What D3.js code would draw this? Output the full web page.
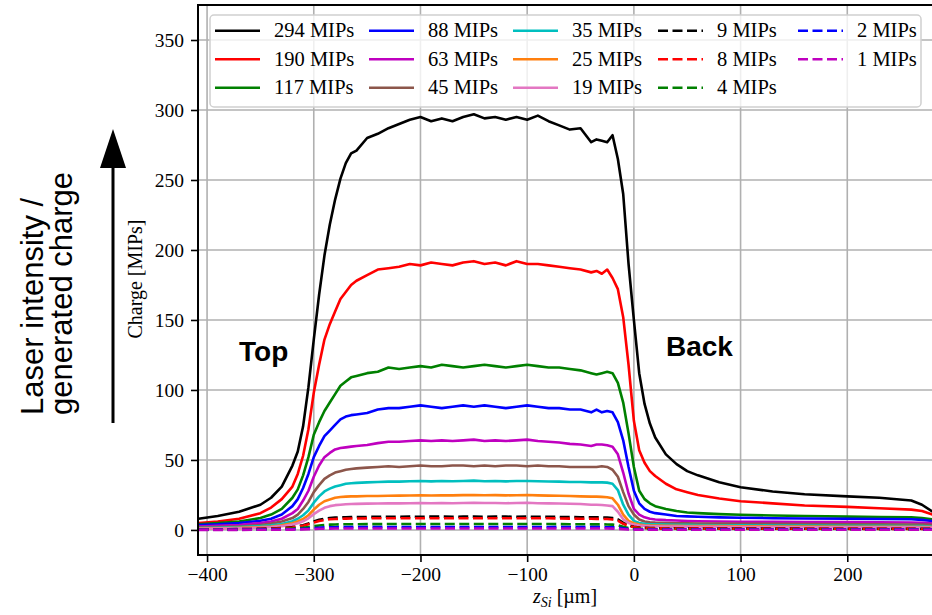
<!DOCTYPE html>
<meta charset="utf-8">
<title>charge vs z_Si</title>
<style>
body {
  margin: 0px;
  background: #fff;
}
svg {
  display: block;
}
.tick text {
  font-family: "Liberation Serif", serif;
  font-size: 19.5px;
  fill: #000;
}
</style>
<body>
<script src="https://d3js.org/d3.v7.min.js"></script>
<script>
var width = 932, height = 615;

// z positions [um] shared by every series
var zPos = [-408, -390, -370, -350, -340, -330, -320, -315, -310, -305,
            -300, -295, -290, -285, -280, -275, -270, -265, -260, -250,
            -240, -230, -220, -210, -200, -190, -180, -170, -160, -150,
            -140, -130, -120, -110, -100, -90, -80, -70, -60, -50,
            -40, -35, -30, -25, -20, -15, -10, -5, 0, 5,
            10, 15, 20, 30, 40, 50, 60, 80, 100, 130,
            160, 200, 230, 260, 270, 280, 290];

// charge [MIPs]
var q294 = [8, 10, 13, 18, 23, 31, 46, 56, 74, 102,
            136, 168, 196, 218, 236, 251, 262, 269, 271, 280,
            283, 287, 290, 293, 295, 292, 294, 292, 295, 297,
            294, 295, 293, 295, 293, 296, 292, 289, 286, 287,
            277, 279, 278, 277, 282, 265, 240, 190, 150, 112,
            90, 76, 66, 54, 47, 42, 39, 34, 30.5, 27.5,
            25.5, 24, 23, 21, 18, 13, 8];
var q190 = [5, 6, 8, 12, 16, 22, 31, 40, 53, 72,
            98, 118, 136, 147, 156, 165, 170, 175, 178, 182,
            186, 187, 188, 190, 189, 191, 190, 189, 191, 192,
            190, 191, 189, 192, 190, 190, 189, 188, 187, 186,
            184, 185, 183, 186, 180, 172, 152, 118, 78, 57,
            48, 42, 38.5, 33, 29, 27, 25, 22.5, 20.5, 19,
            17.5, 16.5, 15.5, 14.5, 13.5, 11, 9];
var q117 = [4, 5, 6, 8.5, 11, 15, 23, 29, 39, 52,
            68, 77, 85, 91, 97, 103, 106, 109, 110, 112,
            113, 116, 115, 116, 117, 116, 118, 117, 116, 117,
            118, 117, 116, 117, 118, 117, 116, 116, 115, 114,
            112, 111, 112, 113, 112, 105, 91, 69, 45, 28,
            22, 19, 17, 15, 13.5, 12.5, 12, 11.3, 10.8, 10.3,
            10, 9.5, 9.2, 9, 8.5, 7.5, 6];
var q88 = [3.5, 4, 5, 6.5, 8, 11, 17, 22, 30, 40,
           52, 60, 67, 71, 75, 79, 81, 82, 82.5, 83.5,
           86, 87, 87, 88, 89, 88, 87, 88, 89, 88,
           89, 88, 87, 88, 89, 88, 87, 87, 86, 86,
           84, 86, 84, 85, 84, 77, 64, 45, 28, 19,
           15, 13, 12, 11, 10, 9.7, 9.4, 9, 8.7, 8.4,
           8.2, 8, 7.8, 7.6, 7.2, 6.3, 5];
var q63 = [2.4, 3, 3.5, 5, 6, 8, 12, 15, 21, 28,
           38, 46, 52, 55, 57.5, 58.5, 59, 59.5, 60, 60.7,
           62, 63, 63, 63.5, 64, 63.5, 64, 63.5, 64, 64.5,
           63.5, 64, 63.5, 64, 64.5, 63.5, 63, 62.5, 61.5, 61,
           60, 61, 61, 60.5, 59.5, 54, 41, 26, 15, 11,
           9, 8, 7.5, 7, 6.7, 6.4, 6.2, 6, 5.9, 5.8,
           5.7, 5.6, 5.5, 5.3, 5.1, 4.8, 4.4];
var q45 = [1.8, 2, 2.5, 3.5, 4.5, 6, 8.5, 11, 15, 20,
           27, 32, 36.5, 39, 41, 42, 43, 43.5, 44, 44.5,
           45, 45.5, 45, 45.5, 46, 45.5, 45.5, 46, 46, 45.5,
           46, 45.5, 46, 46, 45.5, 46, 45.5, 45.5, 45, 45,
           45, 45, 45.5, 45, 43, 38, 27, 17, 11, 7.5,
           6, 5.5, 5.2, 5, 4.8, 4.7, 4.6, 4.5, 4.4, 4.3,
           4.2, 4.1, 4, 3.9, 3.8, 3.6, 3.3];
var q35 = [1.4, 1.6, 2, 2.7, 3.3, 4.3, 6.2, 8, 10.5, 14,
           19.5, 24, 27.5, 29.5, 31, 32, 33, 33.3, 33.6, 34,
           34.2, 34.5, 34.5, 34.8, 35, 34.7, 35, 34.8, 35, 35.2,
           34.8, 35, 34.7, 35, 35, 34.8, 34.6, 34.5, 34.3, 34.3,
           34, 34, 34, 33.8, 33, 28.5, 18, 11, 6.5, 5,
           4.4, 4.1, 4, 3.8, 3.7, 3.6, 3.5, 3.4, 3.3, 3.2,
           3.1, 3, 2.9, 2.8, 2.7, 2.5, 2.3];
var q25 = [1, 1.2, 1.5, 2, 2.5, 3.3, 4.8, 6, 7.8, 10.5,
           14.5, 18, 20.5, 21.8, 23, 23.5, 23.8, 24, 24, 24.2,
           24.3, 24.4, 24.5, 24.6, 24.8, 24.6, 24.8, 24.7, 24.9, 25,
           24.8, 24.9, 24.7, 24.8, 25, 24.7, 24.5, 24.4, 24.2, 24,
           23.8, 23.8, 23.6, 23.4, 22.6, 18, 11, 6.5, 4.8, 3.8,
           3.4, 3.2, 3.1, 3, 2.9, 2.8, 2.75, 2.7, 2.6, 2.5,
           2.4, 2.3, 2.25, 2.2, 2.1, 2, 1.8];
var q19 = [0.8, 1, 1.2, 1.6, 2, 2.7, 3.8, 4.8, 6.2, 8.3,
           11.3, 13.8, 15.8, 17, 17.7, 18, 18.3, 18.5, 18.6, 18.8,
           18.9, 19, 19, 19.1, 19.3, 19.1, 19.2, 19.1, 19.3, 19.4,
           19.2, 19.3, 19.1, 19.2, 19.4, 19.1, 19, 18.9, 18.7, 18.5,
           18, 18, 17.8, 17.5, 17, 13, 7.6, 5, 3.8, 3.2,
           2.9, 2.7, 2.6, 2.5, 2.4, 2.35, 2.3, 2.2, 2.1, 2,
           1.95, 1.9, 1.85, 1.8, 1.75, 1.65, 1.5];
var q9 = [0.4, 0.5, 0.6, 0.8, 1, 1.4, 2, 2.6, 3.4, 4.6,
          6, 7.2, 8, 8.5, 8.8, 9, 9.1, 9.2, 9.2, 9.3,
          9.3, 9.4, 9.4, 9.5, 9.4, 9.5, 9.5, 9.4, 9.5, 9.5,
          9.4, 9.5, 9.5, 9.4, 9.5, 9.4, 9.4, 9.3, 9.2, 9.1,
          9, 9, 8.9, 8.8, 8.5, 7.5, 5, 3.2, 2.2, 1.7,
          1.5, 1.4, 1.3, 1.2, 1.15, 1.1, 1.05, 1, 1, 0.95,
          0.9, 0.9, 0.85, 0.85, 0.8, 0.8, 0.75];
var q8 = [0.35, 0.45, 0.55, 0.7, 0.9, 1.2, 1.8, 2.3, 3, 4.1,
          5.3, 6.4, 7.1, 7.6, 7.8, 8, 8.1, 8.2, 8.2, 8.3,
          8.3, 8.3, 8.4, 8.4, 8.3, 8.4, 8.4, 8.3, 8.4, 8.4,
          8.3, 8.4, 8.4, 8.3, 8.4, 8.3, 8.3, 8.2, 8.1, 8,
          8, 7.9, 7.9, 7.8, 7.5, 6.6, 4.4, 2.8, 2, 1.5,
          1.35, 1.25, 1.15, 1.1, 1.05, 1, 0.95, 0.9, 0.9, 0.85,
          0.8, 0.8, 0.75, 0.75, 0.7, 0.7, 0.65];
var q4 = [0.2, 0.25, 0.3, 0.4, 0.5, 0.7, 1, 1.2, 1.5, 2,
          2.7, 3.2, 3.6, 3.8, 3.9, 4, 4.05, 4.1, 4.1, 4.15,
          4.15, 4.2, 4.2, 4.2, 4.2, 4.2, 4.2, 4.2, 4.2, 4.2,
          4.2, 4.2, 4.2, 4.2, 4.2, 4.2, 4.2, 4.15, 4.1, 4.1,
          4, 4, 4, 3.9, 3.8, 3.3, 2.2, 1.4, 1, 0.8,
          0.7, 0.65, 0.6, 0.55, 0.55, 0.5, 0.5, 0.5, 0.45, 0.45,
          0.45, 0.4, 0.4, 0.4, 0.4, 0.35, 0.35];
var q2 = [0.1, 0.12, 0.15, 0.2, 0.25, 0.35, 0.5, 0.6, 0.8, 1,
          1.35, 1.6, 1.8, 1.9, 1.95, 2, 2, 2.05, 2.05, 2.05,
          2.1, 2.1, 2.1, 2.1, 2.1, 2.1, 2.1, 2.1, 2.1, 2.1,
          2.1, 2.1, 2.1, 2.1, 2.1, 2.1, 2.1, 2.1, 2.05, 2.05,
          2, 2, 2, 1.95, 1.9, 1.65, 1.1, 0.7, 0.5, 0.4,
          0.35, 0.32, 0.3, 0.28, 0.27, 0.26, 0.25, 0.25, 0.24, 0.23,
          0.22, 0.22, 0.21, 0.21, 0.2, 0.2, 0.2];
var q1 = [0.05, 0.06, 0.08, 0.1, 0.12, 0.17, 0.25, 0.3, 0.4, 0.5,
          0.68, 0.8, 0.9, 0.95, 0.98, 1, 1, 1.02, 1.02, 1.03,
          1.05, 1.05, 1.05, 1.05, 1.05, 1.05, 1.05, 1.05, 1.05, 1.05,
          1.05, 1.05, 1.05, 1.05, 1.05, 1.05, 1.05, 1.05, 1.02, 1.02,
          1, 1, 1, 0.98, 0.95, 0.82, 0.55, 0.35, 0.25, 0.2,
          0.18, 0.16, 0.15, 0.14, 0.13, 0.13, 0.12, 0.12, 0.12, 0.11,
          0.11, 0.11, 0.1, 0.1, 0.1, 0.1, 0.1];

var labels = ["294 MIPs", "190 MIPs", "117 MIPs", "88 MIPs", "63 MIPs", "45 MIPs",
              "35 MIPs", "25 MIPs", "19 MIPs", "9 MIPs", "8 MIPs", "4 MIPs",
              "2 MIPs", "1 MIPs"];
var xTicks = [-400, -300, -200, -100, 0, 100, 200];
var yTicks = [0, 50, 100, 150, 200, 250, 300, 350];

var series = [q294, q190, q117, q88, q63, q45, q35, q25, q19, q9, q8, q4, q2, q1];
var colors = ["#000000", "#ff0000", "#008000", "#0000ff", "#bf00bf", "#8c564b",
              "#00bfbf", "#ff7f0e", "#e377c2", "#000000", "#ff0000", "#008000",
              "#0000ff", "#bf00bf"];

// plot box (window.top is read-only, so no "top" here)
var pLeft = 198, pRight = 932, pTop = 5, pBottom = 555;

var svg = d3.select("body").append("svg")
    .attr("width", width)
    .attr("height", height);

var x = d3.scaleLinear().domain([-408.5, 279.4]).range([pLeft, pRight]);
var y = d3.scaleLinear().domain([-17.9, 375]).range([pBottom, pTop]);

svg.append("clipPath").attr("id", "plotclip")
  .append("rect")
    .attr("x", pLeft).attr("y", pTop)
    .attr("width", pRight - pLeft).attr("height", pBottom - pTop);

// grid
var grid = svg.append("g").attr("stroke", "#b0b0b0").attr("stroke-width", 1.6);
grid.selectAll("line.gx")
    .data(xTicks)
  .enter().append("line")
    .attr("class", "gx")
    .attr("x1", function(d) { return x(d); })
    .attr("x2", function(d) { return x(d); })
    .attr("y1", pTop).attr("y2", pBottom);
grid.selectAll("line.gy")
    .data(yTicks)
  .enter().append("line")
    .attr("class", "gy")
    .attr("y1", function(d) { return y(d); })
    .attr("y2", function(d) { return y(d); })
    .attr("x1", pLeft).attr("x2", pRight);

// curves
var line = d3.line()
    .x(function(d, i) { return x(zPos[i]); })
    .y(function(d) { return y(d); });

svg.append("g")
    .attr("clip-path", "url(#plotclip)")
  .selectAll("path")
    .data(series)
  .enter().append("path")
    .attr("d", line)
    .attr("fill", "none")
    .attr("stroke", function(d, i) { return colors[i]; })
    .attr("stroke-width", 2.6)
    .attr("stroke-linejoin", "round")
    .attr("stroke-dasharray", function(d, i) { return i >= 9 ? "10,4.5" : null; });

// axes
var fmt = function(d) { return d < 0 ? "\u2212" + (-d) : String(d); };
var xAxis = svg.append("g")
    .attr("transform", "translate(0," + pBottom + ")")
    .call(d3.axisBottom(x).tickValues(xTicks).tickFormat(fmt).tickSize(7).tickPadding(5));
var yAxis = svg.append("g")
    .attr("transform", "translate(" + pLeft + ",0)")
    .call(d3.axisLeft(y).tickValues(yTicks).tickFormat(fmt).tickSize(7).tickPadding(7));
[xAxis, yAxis].forEach(function(a) {
  a.select(".domain").remove();
  a.selectAll(".tick line").attr("stroke", "#000").attr("stroke-width", 1.6);
});

// spines
svg.append("path")
    .attr("d", "M" + (pRight + 5) + "," + pTop + "H" + pLeft + "V" + pBottom + "H" + (pRight + 5))
    .attr("fill", "none")
    .attr("stroke", "#000")
    .attr("stroke-width", 2);

// axis labels
var xl = svg.append("text")
    .attr("x", 565).attr("y", 603)
    .attr("text-anchor", "middle")
    .attr("font-family", "Liberation Serif, serif")
    .attr("font-size", 20);
xl.append("tspan").attr("font-style", "italic").text("z");
xl.append("tspan").attr("font-style", "italic").attr("font-size", 14).attr("dy", 4).text("Si");
xl.append("tspan").attr("dy", -4).text(" [\u00b5m]");

svg.append("text")
    .attr("transform", "translate(142,279) rotate(-90)")
    .attr("text-anchor", "middle")
    .attr("font-family", "Liberation Serif, serif")
    .attr("font-size", 20)
    .text("Charge [MIPs]");

// legend
var colX = [215, 369, 513, 658, 798];
var legend = svg.append("g");
legend.append("rect")
    .attr("x", 210).attr("y", 15)
    .attr("width", 711).attr("height", 92)
    .attr("rx", 4)
    .attr("fill", "#fff").attr("fill-opacity", 0.8)
    .attr("stroke", "#d0d0d0").attr("stroke-width", 1.5);
var item = legend.selectAll("g.item")
    .data(labels)
  .enter().append("g")
    .attr("class", "item")
    .attr("transform", function(d, i) {
      return "translate(" + colX[Math.floor(i / 3)] + "," + (30.7 + (i % 3) * 28.5) + ")";
    });
item.append("line")
    .attr("x1", 0).attr("x2", 45)
    .attr("stroke", function(d, i) { return colors[i]; })
    .attr("stroke-width", 2.6)
    .attr("stroke-dasharray", function(d, i) { return i >= 9 ? "10,4.5" : null; });
item.append("text")
    .attr("x", 59).attr("y", 6.5)
    .attr("font-family", "Liberation Serif, serif")
    .attr("font-size", 20.5)
    .text(function(d) { return d; });

// annotations
svg.append("text")
    .attr("x", 239).attr("y", 361)
    .attr("font-family", "Liberation Sans, Arial, sans-serif")
    .attr("font-weight", "bold").attr("font-size", 28)
    .text("Top");
svg.append("text")
    .attr("x", 666).attr("y", 356)
    .attr("font-family", "Liberation Sans, Arial, sans-serif")
    .attr("font-weight", "bold").attr("font-size", 28)
    .text("Back");

svg.append("text")
    .attr("transform", "translate(43,415) rotate(-90)")
    .attr("font-family", "Liberation Sans, Arial, sans-serif")
    .attr("font-size", 31)
    .text("Laser intensity /");
svg.append("text")
    .attr("transform", "translate(72,415) rotate(-90)")
    .attr("font-family", "Liberation Sans, Arial, sans-serif")
    .attr("font-size", 31)
    .text("generated charge");

svg.append("line")
    .attr("x1", 113).attr("x2", 113)
    .attr("y1", 423).attr("y2", 164)
    .attr("stroke", "#000").attr("stroke-width", 3);
svg.append("path")
    .attr("d", "M113,129L100,168L126,168Z")
    .attr("fill", "#000");
</script>
</body>
